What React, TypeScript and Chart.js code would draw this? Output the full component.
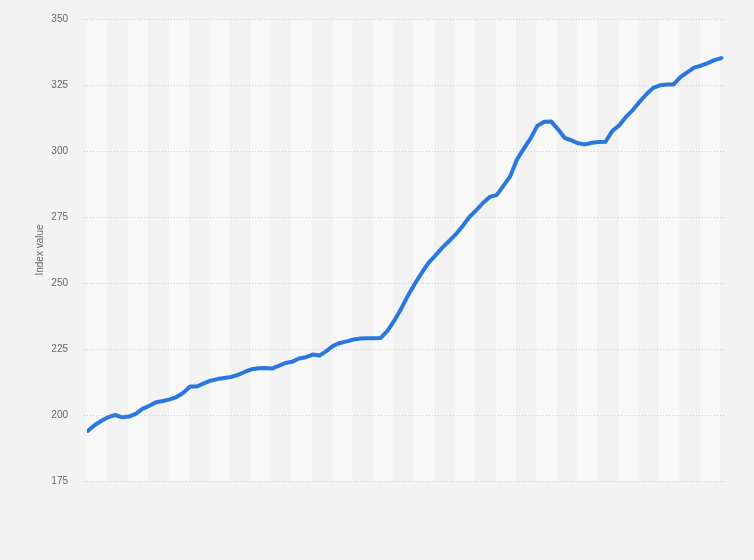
import React, { useEffect, useRef } from "react";
import { Chart, registerables } from "chart.js";

Chart.register(...registerables);

// Monthly index values
const indexValues: number[] = [
  194.0, 196.2, 197.8, 199.2, 200.0, 199.1, 199.4, 200.4, 202.3, 203.5,
  204.8, 205.3, 205.9, 206.8, 208.4, 210.8, 210.8, 212.0, 213.0, 213.6,
  214.0, 214.4, 215.2, 216.3, 217.3, 217.7, 217.8, 217.6, 218.6, 219.7,
  220.2, 221.4, 221.9, 222.9, 222.5, 224.2, 226.2, 227.3, 227.9, 228.6,
  229.0, 229.1, 229.1, 229.2, 232.0, 235.8, 240.3, 245.3, 249.7, 253.8,
  257.6, 260.4, 263.3, 265.8, 268.4, 271.5, 275.0, 277.5, 280.3, 282.6,
  283.3, 286.8, 290.4, 296.8, 300.9, 304.8, 309.6, 311.1, 311.2, 308.3,
  305.0, 304.0, 302.9, 302.5, 303.1, 303.4, 303.5, 307.6, 309.7, 312.9,
  315.5, 318.6, 321.5, 323.9, 324.9, 325.2, 325.2, 328.0, 329.8, 331.6,
  332.3, 333.3, 334.4, 335.2,
];

const yTicks: number[] = [175, 200, 225, 250, 275, 300, 325, 350];
const yTitle = "Index value";
const pointsPerBand = 3;

export default function App() {
  const ref = useRef<HTMLCanvasElement | null>(null);

  useEffect(() => {
    if (!ref.current) return;
    const bandPlugin = {
      id: "bands",
      beforeDraw(chart: any) {
        const { ctx, chartArea, width, height } = chart;
        const xs = chart.scales.x;
        ctx.save();
        ctx.fillStyle = "#f3f3f3";
        ctx.fillRect(0, 0, width, height);
        const nBands = Math.ceil(indexValues.length / pointsPerBand) + 1;
        for (let k = 0; k < nBands; k++) {
          let x0 = xs.getPixelForValue(k * pointsPerBand - 0.15);
          let x1 = xs.getPixelForValue((k + 1) * pointsPerBand - 0.15);
          x0 = Math.max(x0, chartArea.left);
          x1 = Math.min(x1, chartArea.right);
          if (x1 <= x0) continue;
          ctx.fillStyle = k % 2 === 0 ? "#f8f8f8" : "#f2f2f2";
          ctx.fillRect(x0, chartArea.top, x1 - x0, chartArea.bottom - chartArea.top);
        }
        ctx.restore();
      },
    };

    const chart = new Chart(ref.current, {
      type: "line",
      data: {
        datasets: [
          {
            data: indexValues.map((v, i) => ({ x: i, y: v })),
            borderColor: "#2a78de",
            borderWidth: 4,
            pointRadius: 0,
            tension: 0,
            borderCapStyle: "round",
            borderJoinStyle: "round",
            fill: false,
          },
        ],
      },
      options: {
        animation: false,
        responsive: false,
        layout: { padding: { left: 0, top: 19, right: 30, bottom: 79 } },
        plugins: { legend: { display: false }, tooltip: { enabled: false } },
        scales: {
          x: {
            type: "linear",
            display: false,
            min: -0.147,
            max: 93.4,
          },
          y: {
            min: 175,
            max: 350,
            afterFit: (s: any) => {
              s.width = 87;
              s.paddingTop = 0;
              s.paddingBottom = 0;
            },
            afterBuildTicks: (s: any) => {
              s.ticks = yTicks.map((v) => ({ value: v }));
            },
            ticks: {
              color: "#666666",
              padding: 16,
              font: { family: "'Liberation Sans', Arial, sans-serif", size: 10 },
            },
            grid: {
              color: "#cdcdcd",
              lineWidth: 1,
              drawTicks: true,
              tickLength: 3,
              tickBorderDash: [1, 2],
            },
            border: { display: false, dash: [1, 2] },
            title: {
              display: true,
              text: yTitle,
              color: "#666666",
              padding: { top: 34, bottom: 0 },
              font: { family: "'Liberation Sans', Arial, sans-serif", size: 10 },
            },
          },
        },
      },
      plugins: [bandPlugin],
    } as any);
    return () => chart.destroy();
  }, []);

  return (
    <div style={{ position: "fixed", left: 0, top: 0, width: 754, height: 560, background: "#f3f3f3" }}>
      <canvas ref={ref} width={754} height={560} style={{ display: "block" }} />
    </div>
  );
}
